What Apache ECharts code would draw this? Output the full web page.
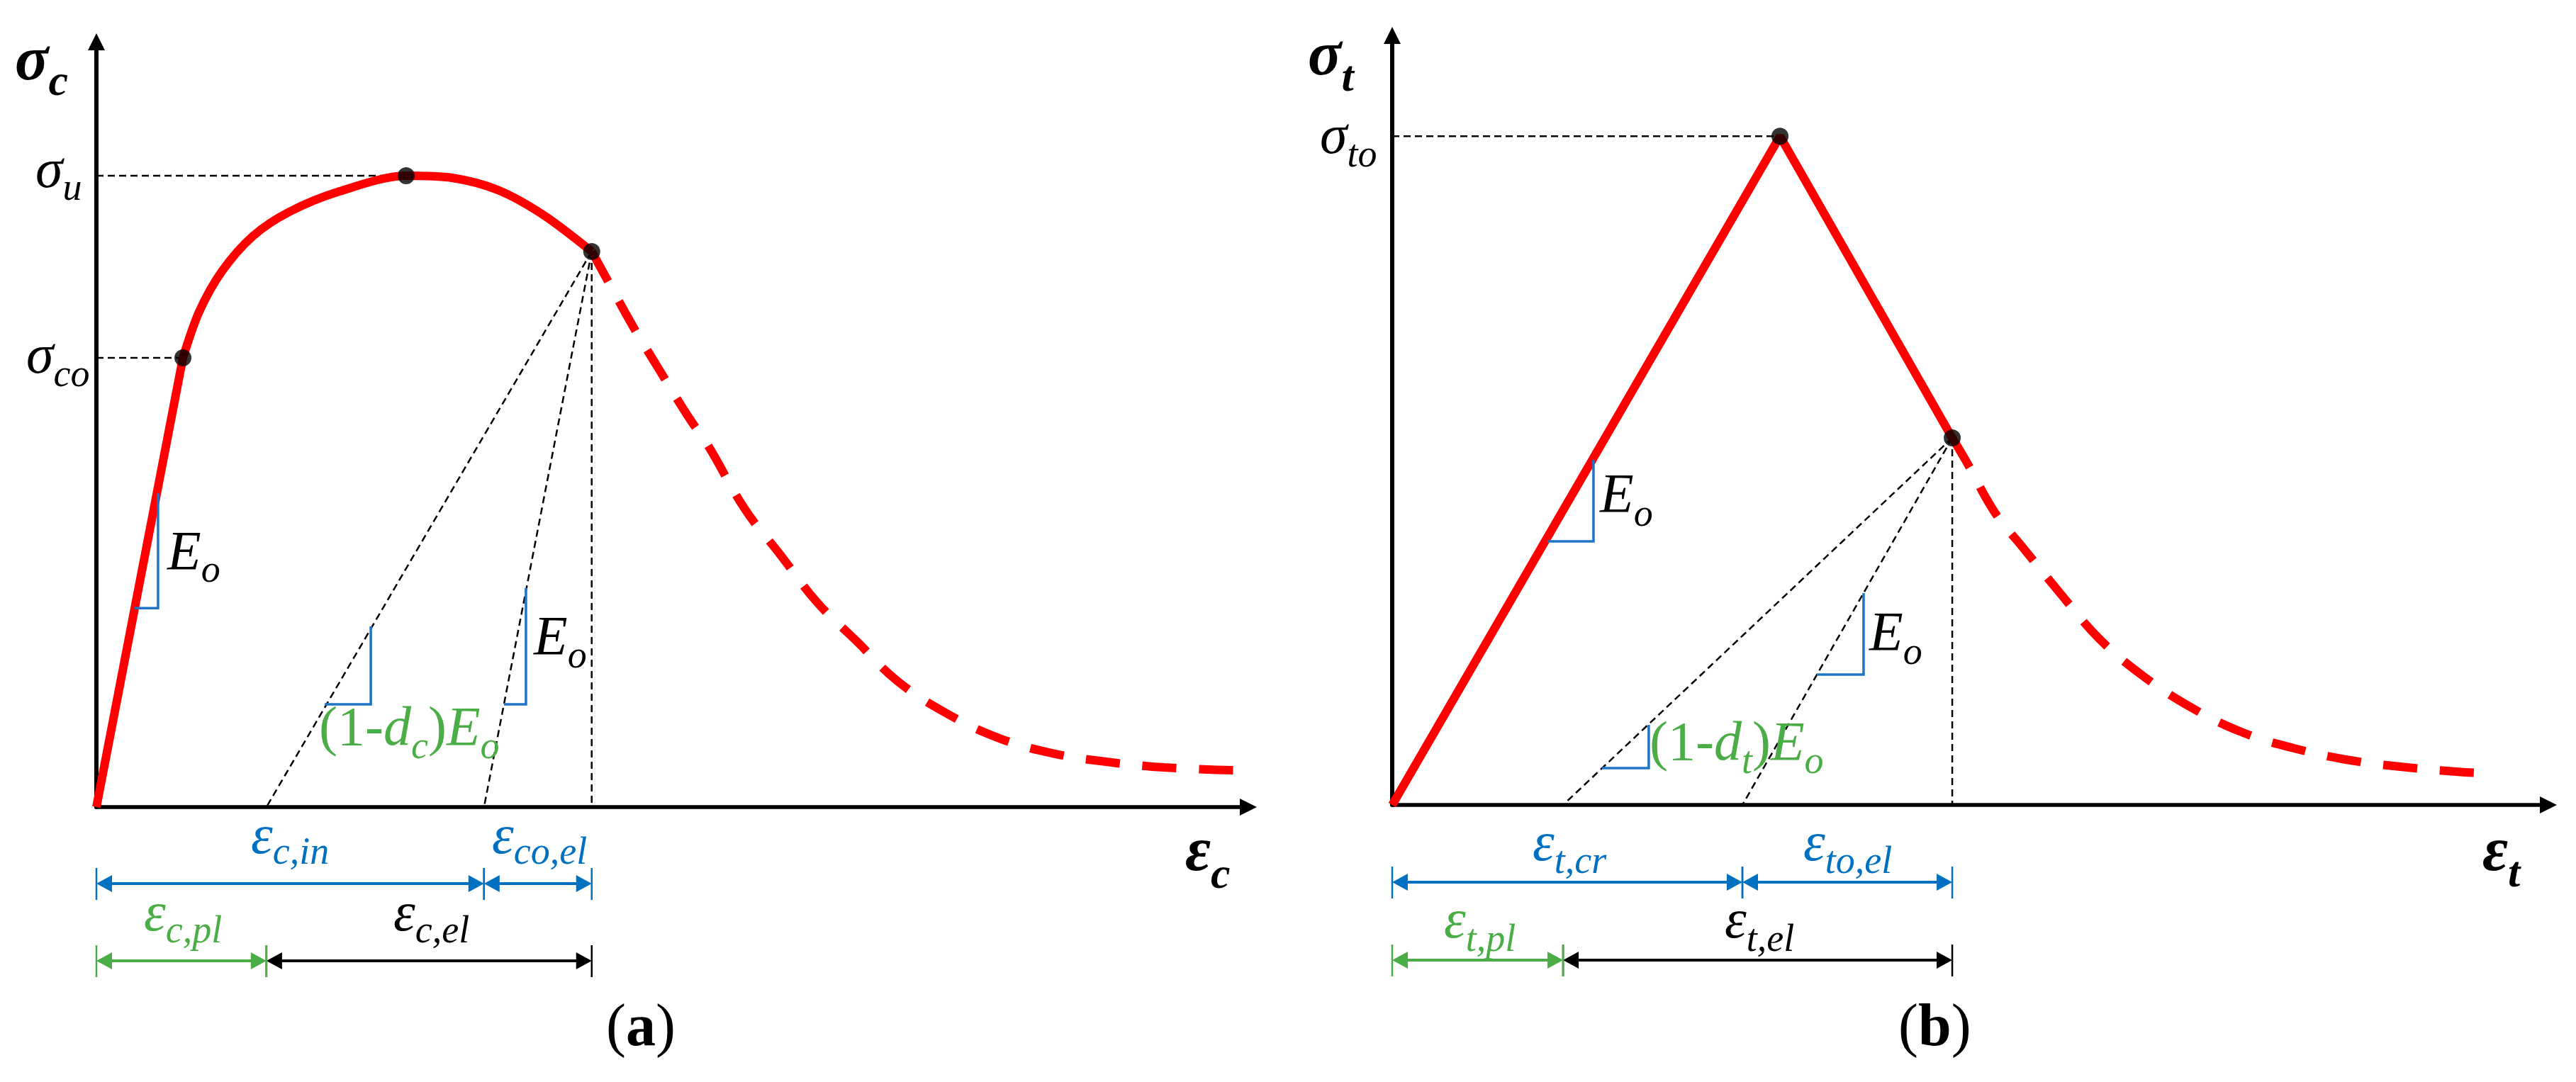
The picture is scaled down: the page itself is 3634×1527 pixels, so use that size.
<!DOCTYPE html>
<html>
<head>
<meta charset="utf-8">
<script src="https://cdn.jsdelivr.net/npm/echarts@6/dist/echarts.min.js"></script>
<style>
  html, body { margin: 0; padding: 0; background: #fff; }
  #chart { width: 3634px; height: 1527px; }
</style>
</head>
<body>
<div id="chart"></div>
<script>
// (a) compression: strain / stress in sketch units (0..100 on both axes)
var compLinear = [[0, 0], [7.51, 58.7]];
var compCurve = [
  [7.51, 58.7], [8.92, 64.72], [10.89, 70.0], [13.6, 74.63], [16.74, 77.78],
  [21.11, 80.46], [26.89, 82.5], [30.89, 82.22], [34.83, 80.65], [38.77, 77.41],
  [43.0, 72.6]
];
var compSoftening = [
  [43.0, 72.6], [44.23, 69.23], [46.57, 62.84], [48.54, 57.94], [51.31, 51.18],
  [53.15, 47.11], [56.29, 38.96], [59.43, 32.86], [62.57, 26.75], [66.01, 21.66],
  [69.46, 16.57], [73.52, 12.49], [78.25, 9.07], [82.99, 7.03], [87.67, 5.92],
  [92.71, 5.18], [98.68, 4.81]
];
var compPoints = [[7.51, 58.7], [26.89, 82.5], [43.0, 72.6]];
var compGuides = [
  [0, 82.5, 26.89, 82.5], [0, 58.7, 7.51, 58.7],
  [43.0, 72.6, 14.76, 0], [43.0, 72.6, 33.65, 0], [43.0, 72.6, 43.0, 0]
];
var compSlopes = [[3.32, 26.0, 5.35, 41.0], [19.82, 13.43, 23.82, 23.61], [35.38, 13.43, 37.29, 28.61]];
var compDimTop = [[0, 33.65], [33.65, 43.0]];
var compDimPl = [[0, 14.76]];
var compDimEl = [[14.76, 43.0]];

// (b) tension
var tenLinear = [[0, 0], [33.54, 86.9], [48.44, 47.7]];
var tenSoftening = [
  [48.44, 47.7], [50.03, 43.65], [51.26, 40.15], [52.54, 37.11], [54.51, 33.52],
  [57.76, 27.53], [61.07, 21.73], [64.62, 17.13], [68.85, 12.89], [73.45, 9.48],
  [77.99, 7.37], [82.89, 5.8], [87.8, 4.88], [92.83, 4.24], [94.3, 4.14]
];
var tenPoints = [[33.54, 86.9], [48.44, 47.7]];
var tenGuides = [
  [0, 86.9, 33.54, 86.9],
  [48.44, 47.7, 14.78, 0], [48.44, 47.7, 30.29, 0], [48.44, 47.7, 48.44, 0]
];
var tenSlopes = [[13.43, 34.25, 17.41, 44.84], [36.73, 16.94, 40.77, 27.53], [18.15, 4.79, 22.19, 10.41]];
var tenDimTop = [[0, 30.29], [30.29, 48.44]];
var tenDimPl = [[0, 14.78]];
var tenDimEl = [[14.78, 48.44]];

var RED = '#ff0000';
var BLUE = '#0070c0';
var TRI_BLUE = '#1f74c6';
var GREEN = '#4aad45';

var chart = echarts.init(document.getElementById('chart'), null, { renderer: 'canvas' });

function axisPair(idx, xw, yw) {
  var line = function (w) {
    return {
      show: true, onZero: false, symbol: ['none', 'triangle'], symbolSize: [24, 24],
      lineStyle: { color: '#000', width: w }
    };
  };
  return {
    x: {
      gridIndex: idx, type: 'value', min: 0, max: 100,
      axisLine: line(xw), axisTick: { show: false }, axisLabel: { show: false }, splitLine: { show: false }
    },
    y: {
      gridIndex: idx, type: 'value', min: 0, max: 100,
      axisLine: line(yw), axisTick: { show: false }, axisLabel: { show: false }, splitLine: { show: false }
    }
  };
}
var axA = axisPair(0, 5.5, 6);
var axB = axisPair(1, 5.5, 6);

function guideItem(params, api) {
  var p = api.coord([api.value(0), api.value(1)]);
  var q = api.coord([api.value(2), api.value(3)]);
  return {
    type: 'line',
    shape: { x1: p[0], y1: p[1], x2: q[0], y2: q[1] },
    style: { stroke: '#000', lineWidth: 2.5, lineDash: [10, 6], fill: 'none' }
  };
}

function slopeItem(params, api) {
  var a = api.coord([api.value(0), api.value(1)]);
  var b = api.coord([api.value(2), api.value(3)]);
  return {
    type: 'polyline',
    shape: { points: [a, [b[0], a[1]], b] },
    style: { stroke: TRI_BLUE, lineWidth: 3.5, fill: 'none' }
  };
}

// double arrow dimension line hanging below the strain axis
function dimItem(color, offset) {
  return function (params, api) {
    var a = api.coord([api.value(0), 0]);
    var b = api.coord([api.value(1), 0]);
    var y = a[1] + offset;
    return {
      type: 'group',
      children: [
        { type: 'line', shape: { x1: a[0] + 10, y1: y, x2: b[0] - 10, y2: y }, style: { stroke: color, lineWidth: 4 } },
        { type: 'polygon', shape: { points: [[a[0], y], [a[0] + 22, y - 12], [a[0] + 22, y + 12]] }, style: { fill: color } },
        { type: 'polygon', shape: { points: [[b[0], y], [b[0] - 22, y - 12], [b[0] - 22, y + 12]] }, style: { fill: color } },
        { type: 'line', shape: { x1: a[0], y1: y - 22, x2: a[0], y2: y + 23 }, style: { stroke: color, lineWidth: 2.5 } },
        { type: 'line', shape: { x1: b[0], y1: y - 22, x2: b[0], y2: y + 23 }, style: { stroke: color, lineWidth: 2.5 } }
      ]
    };
  };
}

function panelSeries(idx, d) {
  var base = { xAxisIndex: idx, yAxisIndex: idx };
  var s = [];
  s.push(Object.assign({
    type: 'custom', renderItem: guideItem, data: d.guides, z: 1,
    encode: { x: [0, 2], y: [1, 3] }, silent: true
  }, base));
  d.solid.forEach(function (arr) {
    s.push(Object.assign({
      type: 'line', data: arr.data, smooth: arr.smooth, showSymbol: false, z: 2,
      lineStyle: { color: RED, width: 12 }, silent: true
    }, base));
  });
  s.push(Object.assign({
    type: 'line', data: d.soft, smooth: 0.4, showSymbol: false, z: 2,
    lineStyle: { color: RED, width: 12, type: [48, 32] }, silent: true
  }, base));
  s.push(Object.assign({
    type: 'custom', renderItem: slopeItem, data: d.slopes, z: 3,
    encode: { x: [0, 2], y: [1, 3] }, silent: true
  }, base));
  s.push(Object.assign({
    type: 'scatter', data: d.points, symbolSize: 24, z: 5,
    itemStyle: { color: '#000' }, silent: true
  }, base));
  s.push(Object.assign({
    type: 'custom', renderItem: dimItem(BLUE, d.off1), data: d.dimTop, z: 3, silent: true
  }, base));
  s.push(Object.assign({
    type: 'custom', renderItem: dimItem('#000', d.off2), data: d.dimEl, z: 3, silent: true
  }, base));
  s.push(Object.assign({
    type: 'custom', renderItem: dimItem(GREEN, d.off2), data: d.dimPl, z: 4, silent: true
  }, base));
  return s;
}

var series = panelSeries(0, {
  guides: compGuides,
  solid: [{ data: compLinear, smooth: false }, { data: compCurve, smooth: 0.3 }],
  soft: compSoftening, slopes: compSlopes, points: compPoints,
  dimTop: compDimTop, dimEl: compDimEl, dimPl: compDimPl, off1: 108, off2: 217
}).concat(panelSeries(1, {
  guides: tenGuides,
  solid: [{ data: tenLinear, smooth: false }],
  soft: tenSoftening, slopes: tenSlopes, points: tenPoints,
  dimTop: tenDimTop, dimEl: tenDimEl, dimPl: tenDimPl, off1: 109, off2: 219
}));

// text runs with subscripts, placed on a baseline
var measureCtx = document.createElement('canvas').getContext('2d');
var FAM = '"Liberation Serif", "Times New Roman", serif';
function run(x, base, color, parts) {
  var out = [];
  parts.forEach(function (p) {
    var size = p[2];
    var font = p[1] + ' ' + size + 'px ' + FAM;
    out.push({
      type: 'text', x: x, y: base + (p[3] || 0) - 0.32 * size, z: 10,
      style: {
        text: p[0], font: font, fill: color,
        textAlign: 'left', textVerticalAlign: 'middle', align: 'left', verticalAlign: 'middle'
      }
    });
    measureCtx.font = font;
    x += measureCtx.measureText(p[0]).width;
  });
  return out;
}
var M = 78, S = 54, AX = 88, AXS = 62;
function sym(x, y, color, main, sub, dy) {
  return run(x, y, color, [[main, 'italic', M], [sub, 'italic', S, dy]]);
}

var labels = [].concat(
  // (a)
  run(21, 117, '#000', [['σ', 'italic bold', AX], ['c', 'italic bold', AXS, 21]]),
  run(1672, 1233, '#000', [['ε', 'italic bold', AX], ['c', 'italic bold', AXS, 24]]),
  sym(50, 268, '#000', 'σ', 'u', 17),
  sym(37, 530, '#000', 'σ', 'co', 18),
  sym(236, 807, '#000', 'E', 'o', 17),
  sym(753, 927, '#000', 'E', 'o', 18),
  run(450, 1055, GREEN, [['(1-', 'normal', M], ['d', 'italic', M], ['c', 'italic', S, 18],
    [')', 'normal', M], ['E', 'italic', M], ['o', 'italic', S, 18]]),
  sym(354, 1208, BLUE, 'ε', 'c,in', 14),
  sym(694, 1208, BLUE, 'ε', 'co,el', 14),
  sym(203, 1317, GREEN, 'ε', 'c,pl', 16),
  sym(555, 1317, '#000', 'ε', 'c,el', 16),
  run(855, 1480, '#000', [['(', 'normal', 84], ['a', 'bold', 84], [')', 'normal', 84]]),
  // (b)
  run(1845, 110, '#000', [['σ', 'italic bold', AX], ['t', 'italic bold', AXS, 22]]),
  run(3502, 1233, '#000', [['ε', 'italic bold', AX], ['t', 'italic bold', AXS, 22]]),
  sym(1862, 220, '#000', 'σ', 'to', 18),
  sym(2257, 726, '#000', 'E', 'o', 19),
  sym(2637, 921, '#000', 'E', 'o', 19),
  run(2327, 1076, GREEN, [['(1-', 'normal', M], ['d', 'italic', M], ['t', 'italic', S, 18],
    [')', 'normal', M], ['E', 'italic', M], ['o', 'italic', S, 18]]),
  sym(2162, 1218, BLUE, 'ε', 't,cr', 17),
  sym(2544, 1218, BLUE, 'ε', 'to,el', 17),
  sym(2037, 1327, GREEN, 'ε', 't,pl', 18),
  sym(2433, 1327, '#000', 'ε', 't,el', 18),
  run(2678, 1480, '#000', [['(', 'normal', 84], ['b', 'bold', 84], [')', 'normal', 84]])
);

var option = {
  backgroundColor: '#fff',
  animation: false,
  grid: [
    { left: 136, top: 59, width: 1625, height: 1080, outerBoundsMode: 'none', containLabel: false },
    { left: 1964, top: 50, width: 1631, height: 1086, outerBoundsMode: 'none', containLabel: false }
  ],
  xAxis: [axA.x, axB.x],
  yAxis: [axA.y, axB.y],
  series: series,
  graphic: { elements: labels }
};
chart.setOption(option);
</script>
</body>
</html>
